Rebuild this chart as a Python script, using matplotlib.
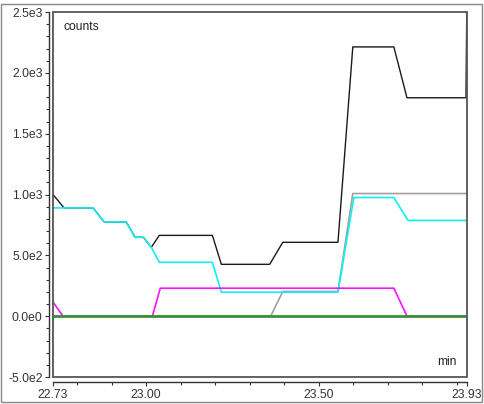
import matplotlib
matplotlib.use("Agg")
import matplotlib.pyplot as plt
from matplotlib.patches import Rectangle
from matplotlib.ticker import FixedLocator

# ===============================================< DATA >===============================================================

black_t = [22.73, 22.762, 22.846, 22.878, 22.942, 22.968, 22.992, 23.015, 23.038, 23.192, 23.218, 23.358, 23.396,
           23.556, 23.599, 23.718, 23.756, 23.927, 23.93]
black_y = [1000, 890, 890, 775, 775, 648, 648, 566, 664, 664, 426, 426, 607, 607, 2213, 2213, 1795, 1795, 2700]

cyan_t = [22.73, 22.846, 22.878, 22.942, 22.968, 22.992, 23.015, 23.038, 23.192, 23.218, 23.556, 23.602, 23.718,
          23.759, 23.93]
cyan_y = [890, 890, 775, 775, 648, 648, 566, 443, 443, 197, 197, 975, 975, 787, 787]

gray_t = [22.73, 23.361, 23.396, 23.556, 23.599, 23.93]
gray_y = [0, 0, 203, 203, 1008, 1008]

magenta_t = [22.73, 22.759, 23.018, 23.041, 23.718, 23.756, 23.93]
magenta_y = [115, 0, 0, 230, 230, 0, 0]

green_t = [22.73, 23.93]
green_y = [0, 0]

y_ticks = [-500, 0, 500, 1000, 1500, 2000, 2500]
y_labels = ["-5.0e2", "0.0e0", "5.0e2", "1.0e3", "1.5e3", "2.0e3", "2.5e3"]
x_ticks = [22.73, 23.00, 23.50, 23.93]
x_labels = ["22.73", "23.00", "23.50", "23.93"]
x_minor = [22.8, 22.9, 23.1, 23.2, 23.3, 23.4, 23.6, 23.7, 23.8, 23.9]

# ===============================================< PLOT >===============================================================

plt.rcParams['font.family'] = ['Liberation Sans', 'DejaVu Sans']
fig = plt.figure(figsize=(4.85, 4.04), dpi=100)
ax = fig.add_axes([53 / 485, 27 / 404, 414 / 485, 365 / 404])

ax.plot(black_t, black_y, color="#1a1a1a", lw=1.0)
ax.plot(gray_t, gray_y, color="#a0a0a0", lw=1.2)
ax.plot(cyan_t, cyan_y, color="#10f0f0", lw=1.2)
ax.plot(magenta_t, magenta_y, color="#ff10ff", lw=1.2)
ax.plot(green_t, green_y, color="#3a8f3a", lw=2.0)

ax.set_xlim(22.73, 23.93)
ax.set_ylim(-500, 2500)

ax.set_yticks(y_ticks)
ax.set_yticklabels(y_labels)
ax.yaxis.set_minor_locator(FixedLocator([v for v in range(-400, 2500, 100) if v % 500 != 0]))
ax.set_xticks(x_ticks)
ax.set_xticklabels(x_labels)
ax.xaxis.set_minor_locator(FixedLocator(x_minor))

ax.tick_params(which="major", direction="out", length=3, width=0.8, color="#333333", labelsize=8.7,
               labelcolor="#333333", pad=1.5)
ax.tick_params(which="minor", direction="out", length=2, width=0.8, color="#333333")

for side in ["top", "right"]:
    ax.spines[side].set_visible(False)
ax.spines["left"].set_position(("outward", 3))
ax.spines["bottom"].set_position(("outward", 3.8))
for side in ["left", "bottom"]:
    ax.spines[side].set_color("#333333")
    ax.spines[side].set_linewidth(1.0)

# plot box
ax.add_patch(Rectangle((0, 0), 1, 1, transform=ax.transAxes, fill=False, edgecolor="#555555", lw=1.3,
                       clip_on=False, zorder=5))

ax.text(0.025, 0.975, "counts", transform=ax.transAxes, ha="left", va="top", fontsize=8.7, color="#222222")
ax.text(0.975, 0.025, "min", transform=ax.transAxes, ha="right", va="bottom", fontsize=8.7, color="#222222")

# outer border
fig.patches.append(Rectangle((1.5 / 485, 2.5 / 404), 481 / 485, 398 / 404, transform=fig.transFigure, fill=False,
                             edgecolor="#888888", lw=1.0))

plt.savefig("out.png", dpi=100)
